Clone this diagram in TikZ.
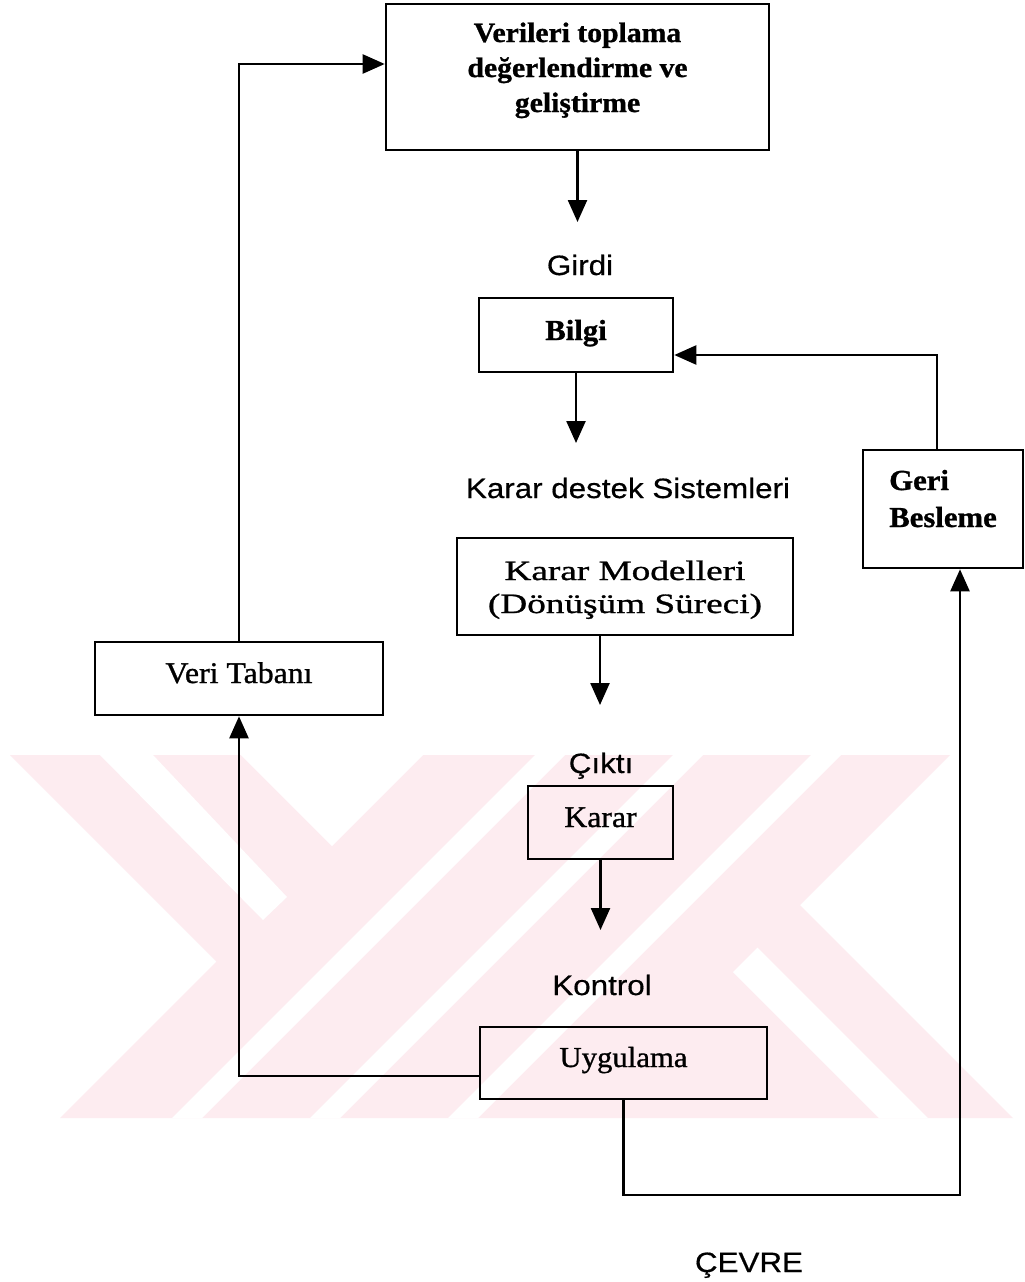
\documentclass[tikz,border=0pt]{standalone}
\usepackage{fontspec}
\usetikzlibrary{arrows.meta}
\newfontfamily\sansf[FakeStretch=1.12, FakeBold=0.5]{Liberation Sans}
\newfontfamily\serf[FakeStretch=1.06, FakeBold=1]{Liberation Serif}
\newfontfamily\serw[FakeStretch=1.33, FakeBold=1]{Liberation Serif}
\definecolor{wm}{RGB}{253,236,240}
\tikzset{
  box/.style={draw, line width=2.6pt, rectangle, inner sep=0pt, text height=20pt},
  lbl/.style={anchor=base, inner sep=0pt, font=\sansf\fontsize{28}{34}\selectfont},
  arr/.style={line width=2.4pt, -{Triangle[length=22pt,width=19pt]}},
  wmark/.style={fill=wm, draw=none},
  wgap/.style={fill=white, draw=none}
}
\begin{document}
\begin{tikzpicture}[x=1pt, y=-1pt]
\useasboundingbox (0,0) rectangle (1025,1282);
\fill[white] (0,0) rectangle (1025,1282);
% watermark
\fill[wmark] (10,755) -- (216.5,961.5) -- (60,1118) -- (1013,1118) -- (800,905) -- (950,755) -- cycle;
\fill[wgap] (241,755) -- (423,755) -- (332,846) -- cycle;
\fill[wgap] (100,755) -- (153,755) -- (287,897) -- (263,920) -- cycle;
\fill[wgap] (535,755) -- (565,755) -- (202,1118) -- (172,1118) -- cycle;
\fill[wgap] (673,755) -- (703,755) -- (340,1118) -- (310,1118) -- cycle;
\fill[wgap] (811,755) -- (841,755) -- (478,1118) -- (448,1118) -- cycle;
\fill[wgap] (733,972) -- (757.5,947.5) -- (928,1118) -- (879,1118) -- cycle;

% boxes
\node[box, minimum width=383pt, minimum height=146pt, text depth=90pt,
      font=\serf\bfseries\fontsize{28}{35}\selectfont] (top) at (577.5,77)
  {\begin{tabular}[t]{@{}c@{}}Verileri toplama\\değerlendirme ve\\geliştirme\end{tabular}};
\node[box, minimum width=194pt, minimum height=74pt, text depth=10pt,
      font=\serf\bfseries\fontsize{29}{35}\selectfont] (bilgi) at (576,335) {Bilgi};
\node[box, minimum width=336pt, minimum height=97pt, text depth=33pt,
      font=\serw\fontsize{28}{33}\selectfont] (kmod) at (625,586.5)
  {\begin{tabular}[t]{@{}c@{}}Karar Modelleri\\(Dönüşüm Süreci)\end{tabular}\hspace{48pt}};
\node[box, minimum width=160pt, minimum height=118pt, text depth=58pt,
      font=\serf\bfseries\fontsize{29}{37}\selectfont] (geri) at (943,509)
  {\begin{tabular}[t]{@{}l@{}}Geri\\Besleme\end{tabular}};
\node[box, minimum width=288pt, minimum height=73pt, text depth=11pt,
      font=\serf\fontsize{30}{36}\selectfont] (veri) at (239,678.5) {Veri Tabanı};
\node[box, minimum width=145pt, minimum height=73pt, text depth=11pt,
      font=\serf\fontsize{30}{36}\selectfont] (karar) at (600.5,822.5) {Karar};
\node[box, minimum width=287pt, minimum height=72pt, text depth=12pt,
      font=\serf\fontsize{29}{35}\selectfont] (uyg) at (623.5,1063) {Uygulama};

% labels
\node[lbl] (girdi) at (580,275) {Girdi};
\node[lbl] (kds) at (628,498) {Karar destek Sistemleri};
\node[lbl] (cikti) at (601,773) {Çıktı};
\node[lbl] (kontrol) at (602,995) {Kontrol};
\node[lbl] (cevre) at (749,1272) {ÇEVRE};

% coordinates
\coordinate (t1) at (577.5,222);
\coordinate (t2) at (576,443);
\coordinate (t3) at (600,705);
\coordinate (t4) at (600.5,930);
\coordinate (cy64) at (0,64);
\coordinate (cy1076) at (0,1076);
\coordinate (cr) at (960,1195);
\coordinate (cf) at (937,355);

% connectors
\draw[arr] (top.south) -- (t1);
\draw[arr] (bilgi.south) -- (t2);
\draw[arr] (t3 |- kmod.south) -- (t3);
\draw[arr] (karar.south) -- (t4);
\draw[arr] (veri.north) |- (top.west |- cy64);
\draw[arr] (uyg.west |- cy1076) -| (veri.south);
\draw[arr] (uyg.south) |- (cr) -- (cr |- geri.south);
\draw[arr] (cf |- geri.north) -- (cf) -- (bilgi.east |- cf);
\end{tikzpicture}
\end{document}
